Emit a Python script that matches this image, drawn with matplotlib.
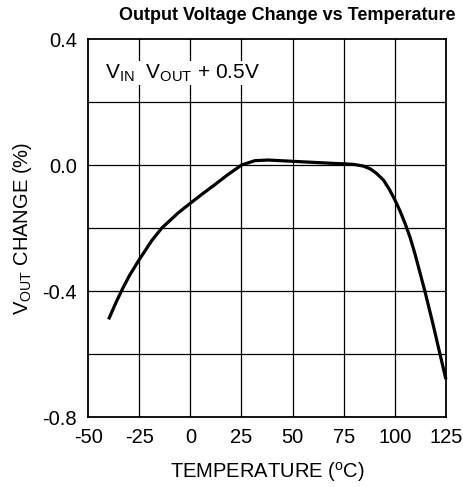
import matplotlib.pyplot as plt

plt.rcParams['font.family'] = ['Liberation Sans', 'DejaVu Sans']
plt.rcParams['mathtext.fontset'] = 'custom'
plt.rcParams['mathtext.rm'] = 'Liberation Sans'
plt.rcParams['mathtext.it'] = 'Liberation Sans'
plt.rcParams['mathtext.default'] = 'regular'

# curve
temp = [-40, -36.5, -33.5, -30, -25, -18.9, -14, -6, 0, 6, 12, 18, 25, 31.5, 38, 50, 62, 68, 75, 80, 84.5, 88, 91, 94.5, 97.5, 100, 102.5, 105, 107.5, 110, 114.7, 118.5, 122.1, 125]
vout_change = [-0.49, -0.438, -0.397, -0.353, -0.3, -0.24, -0.2, -0.152, -0.121, -0.091, -0.062, -0.032, 0.0, 0.014, 0.016, 0.012, 0.008, 0.006, 0.004, 0.002, -0.003, -0.012, -0.026, -0.048, -0.079, -0.11, -0.145, -0.185, -0.23, -0.285, -0.4, -0.5, -0.6, -0.68]

x_ticks = [-50, -25, 0, 25, 50, 75, 100, 125]
y_grid = [-0.8, -0.6, -0.4, -0.2, 0.0, 0.2, 0.4]
y_ticks = [-0.8, -0.4, 0.0, 0.4]
y_labels = ['-0.8', '-0.4', '0.0', '0.4']

fig = plt.figure(figsize=(4.64, 4.87), dpi=100)
ax = fig.add_axes([0.19, 0.1437, 0.771, 0.776])

for x in x_ticks[1:-1]:
    ax.axvline(x, color='black', lw=0.9, zorder=1)
for y in y_grid[1:-1]:
    ax.axhline(y, color='black', lw=0.9, zorder=1)

ax.plot(temp, vout_change, color='black', lw=2.3, zorder=3, clip_on=False,
        solid_joinstyle='round', solid_capstyle='butt')

ax.set_xlim(-50, 125)
ax.set_ylim(-0.8, 0.4)
ax.set_xticks(x_ticks)
ax.set_xticklabels([str(v) for v in x_ticks])
ax.set_yticks(y_ticks)
ax.set_yticklabels(y_labels)
ax.tick_params(length=0, labelsize=14.5)
ax.tick_params(axis='x', pad=8)
ax.tick_params(axis='y', pad=8)
for s in ax.spines.values():
    s.set_linewidth(1.3)

ax.set_xlabel('TEMPERATURE ($^{o}$C)', fontsize=14.5, labelpad=9)
ax.set_ylabel('V$_{OUT}$ CHANGE (%)', fontsize=14.5, labelpad=6)

ax.text(-42, 0.292, 'V$_{IN}$  V$_{OUT}$ + 0.5V', fontsize=15, va='center', ha='left',
        bbox=dict(facecolor='white', edgecolor='none', pad=1), zorder=2)

fig.text(0.619, 0.968, 'Output Voltage Change vs Temperature', fontsize=13, fontweight='bold',
         ha='center', va='center')

fig.savefig('out.png', dpi=100)
